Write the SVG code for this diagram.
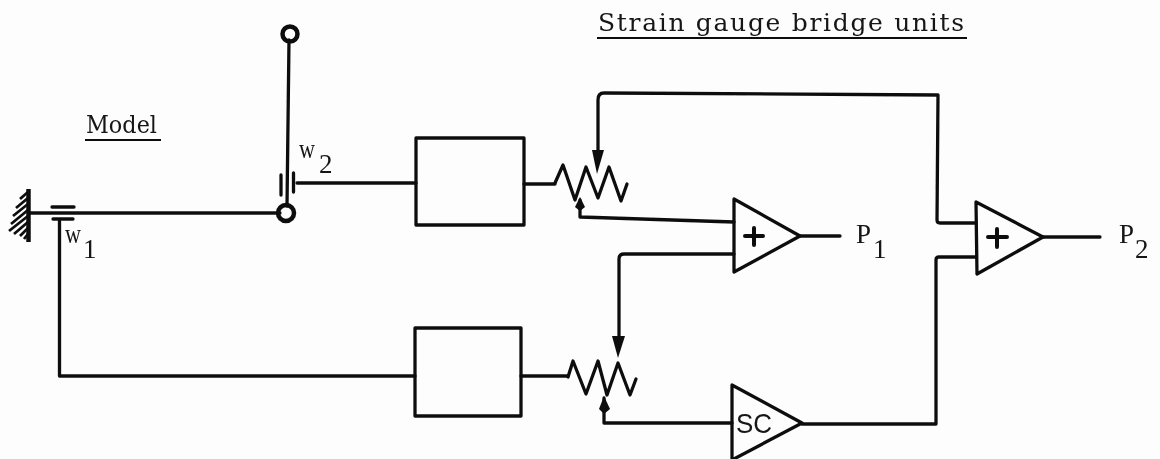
<svg xmlns="http://www.w3.org/2000/svg" width="1160" height="459" viewBox="0 0 1160 459">
<style>
.l{fill:none;stroke:#111;stroke-width:3.300;stroke-linejoin:round;stroke-linecap:round}
.c{fill:none;stroke:#111;stroke-width:4.500}
.a{fill:#111;stroke:none}
text{font-family:"Liberation Serif",serif;fill:#151515}
.m{font-size:27px}
.p{font-size:27px}
.h{font-family:"DejaVu Serif",serif;font-size:25px}
</style>
<defs><filter id="b" x="-2%" y="-2%" width="104%" height="104%"><feGaussianBlur stdDeviation="0.45"/></filter></defs>
<rect width="1160" height="459" fill="#fdfdfd"/>
<g filter="url(#b)">
<g id="connectors">
<path class="l" d="M30 213H280"/>
<path class="l" d="M289 40L287 206"/>
<path class="l" d="M59.500 221V376H415"/>
<path class="l" d="M297 183H416"/>
<path class="l" d="M524 184H555"/>
<path class="l" d="M521 376H568"/>
<path class="l" d="M598 150V100Q598 93 604 93L938 95L937 220Q937 223 940 223H976"/>
<path class="l" d="M580 200V217L734 222"/>
<path class="l" d="M734 254H624Q619 254 619 259V336"/>
<path class="l" d="M604 398V423H732"/>
<path class="l" d="M976 257H939Q936 257 936 260V424H802"/>
<path class="l" d="M800 236H840"/>
<path class="l" d="M1043 237H1100"/>
</g>
<g id="wall">
<path d="M28.500 189V242" fill="none" stroke="#111" stroke-width="4.500"/>
<path d="M28 192L20 199M28 198L16 208M28 204L13 216M28 210L11 224M28 216L9 231M28 222L14 234M28 228L20 236M28 234L24 239" fill="none" stroke="#111" stroke-width="2.800"/>
</g>
<g id="pivot-top"><circle class="c" cx="290" cy="34" r="7.500"/></g>
<g id="pivot-joint"><circle class="c" cx="286" cy="213" r="8"/></g>
<g id="gauge-w1">
<path class="l" d="M52 207H74M53 219H73"/>
<text class="m" x="65" y="243" textLength="16" lengthAdjust="spacingAndGlyphs">w</text>
<text class="m" x="83" y="258">1</text>
</g>
<g id="gauge-w2">
<path class="l" d="M281 175V195M293.500 173V192"/>
<text class="m" x="299" y="158" textLength="16" lengthAdjust="spacingAndGlyphs">w</text>
<text class="m" x="319" y="173">2</text>
</g>
<g id="label-model">
<text class="h" x="86" y="133" textLength="71" lengthAdjust="spacingAndGlyphs">Model</text>
<path d="M85 140H161" stroke="#111" stroke-width="2"/>
</g>
<g id="label-units">
<text class="h" x="598" y="31" textLength="366" lengthAdjust="spacing">Strain gauge bridge units</text>
<path d="M597 38H967" stroke="#111" stroke-width="2"/>
</g>
<g id="box-1"><rect class="l" x="416" y="138" width="108" height="87"/></g>
<g id="box-2"><rect class="l" x="415" y="328" width="106" height="88"/></g>
<g id="resistor-1">
<path class="l" d="M555 183L563 165L575 200L586 167L598 198L609 167L621 201L627 184"/>
<path class="a" d="M592 150H604L597 174Z"/>
<path class="a" d="M580 197L585 207L580 211L575 207Z"/>
</g>
<g id="resistor-2">
<path class="l" d="M568 377L573 361L586 394L598 361L607 395L618 363L630 395L636 379"/>
<path class="a" d="M612 336H625L618 358Z"/>
<path class="a" d="M604 396L610 409L604 414L599 409Z"/>
</g>
<g id="amp-1">
<path class="l" d="M734 199L800 236L734 272Z"/>
<path class="l" d="M745 236H763M754 228V245" style="stroke-width:4"/>
</g>
<g id="amp-sc">
<path class="l" d="M732 385L802 423L732 460Z"/>
<text x="736" y="433" font-size="28" textLength="36" lengthAdjust="spacingAndGlyphs" style="font-family:'Liberation Sans',sans-serif">SC</text>
</g>
<g id="amp-2">
<path class="l" d="M976 202L1043 237L977 274Z"/>
<path class="l" d="M988 237H1007M997 229V247" style="stroke-width:4"/>
</g>
<g id="label-p1">
<text class="p" x="856" y="243">P</text>
<text class="m" x="873" y="258">1</text>
</g>
<g id="label-p2">
<text class="p" x="1119" y="243">P</text>
<text class="m" x="1135" y="258">2</text>
</g>
</g>
</svg>
